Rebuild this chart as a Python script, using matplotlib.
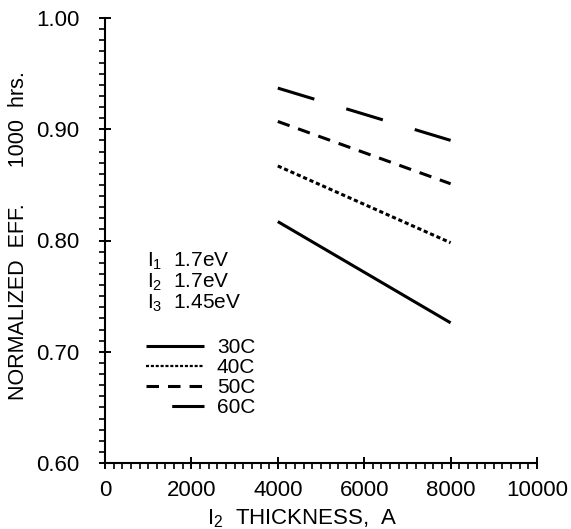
import matplotlib
matplotlib.use("Agg")
import matplotlib.pyplot as plt
from matplotlib.lines import Line2D
from matplotlib.ticker import MultipleLocator, FixedLocator

plt.rcParams['font.family'] = ['Liberation Sans', 'DejaVu Sans']
plt.rcParams['mathtext.fontset'] = 'custom'
plt.rcParams['mathtext.rm'] = 'Liberation Sans'
plt.rcParams['mathtext.default'] = 'regular'
plt.rcParams['lines.scale_dashes'] = False

# Data
thickness = [4000, 8000]
series_labels = ["30C", "40C", "50C", "60C"]
eff_30C = [0.817, 0.726]
eff_40C = [0.867, 0.798]
eff_50C = [0.907, 0.851]
eff_60C = [0.937, 0.890]
band_labels = [r"I$_1$  1.7eV", r"I$_2$  1.7eV", r"I$_3$  1.45eV"]
xticks = [0, 2000, 4000, 6000, 8000, 10000]
yticks = [0.60, 0.70, 0.80, 0.90, 1.00]

styles = [
    dict(linestyle='-', lw=2.2),
    dict(linestyle=(0, (3.0, 2.0)), lw=2.2),
    dict(linestyle=(0, (9.0, 6.5)), lw=2.2),
    dict(linestyle=(0, (27.5, 24.0)), lw=2.2),
]

fig = plt.figure(figsize=(5.71, 5.29), dpi=100)
ax = fig.add_axes([105/571, 1-463/529, 432/571, 445/529])

for ys, st in zip([eff_30C, eff_40C, eff_50C, eff_60C], styles):
    ax.plot(thickness, ys, color='black', solid_capstyle='butt',
            dash_capstyle='butt', **st)

ax.set_xlim(0, 10000)
ax.set_ylim(0.60, 1.00)
ax.xaxis.set_major_locator(FixedLocator(xticks))
ax.yaxis.set_major_locator(FixedLocator(yticks))
ax.xaxis.set_minor_locator(MultipleLocator(200))
ax.yaxis.set_minor_locator(MultipleLocator(0.01))
ax.set_xticklabels([str(v) for v in xticks])
ax.set_yticklabels([f"{v:.2f}" for v in yticks])

for s in ['top', 'right']:
    ax.spines[s].set_visible(False)
for s in ['left', 'bottom']:
    ax.spines[s].set_linewidth(1.5)

ax.tick_params(which='major', direction='inout', length=9, width=1.4,
               labelsize=16)
ax.tick_params(which='minor', direction='out', length=4, width=1.2)
ax.tick_params(axis='y', which='major', pad=14)
ax.tick_params(axis='x', which='major', pad=8)

ax.set_ylabel("NORMALIZED  EFF.      1000  hrs.", fontsize=15.5)
ax.yaxis.set_label_coords((29-105)/432, 0.512)
ax.set_xlabel(r"I$_2$  THICKNESS,  A", fontsize=16)
ax.xaxis.set_label_coords((302-105)/432, -(507-463)/445)

for i, t in enumerate(band_labels):
    ax.text(980, 0.781 - i*0.0188, t, fontsize=15, va='center', ha='left')

handles = [
    Line2D([], [], color='black', linestyle='-', lw=2.2, solid_capstyle='butt'),
    Line2D([], [], color='black', linestyle=(0, (2.2, 1.3)), lw=1.6, dash_capstyle='butt'),
    Line2D([], [], color='black', linestyle=(0, (9.0, 6.5)), lw=2.2, dash_capstyle='butt'),
    Line2D([], [], color='black', linestyle=(33, (27.5, 24.0)), lw=2.2, dash_capstyle='butt'),
]
leg = ax.legend(handles, series_labels, loc='upper left',
                bbox_to_anchor=((146-105)/432, (463-338)/445),
                frameon=False, fontsize=15, handlelength=2.8,
                handletextpad=0.6, labelspacing=0.05, borderpad=0,
                borderaxespad=0)

fig.savefig("out.png", dpi=100)
